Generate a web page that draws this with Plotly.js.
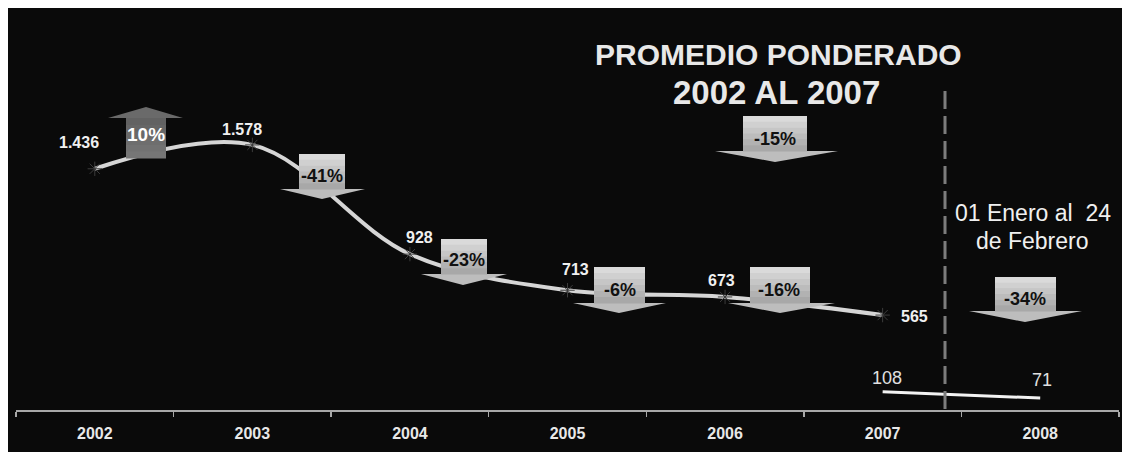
<!DOCTYPE html>
<html>
<head>
<meta charset="utf-8">
<script src="https://cdn.plot.ly/plotly-3.0.1.min.js"></script>
<style>
  html, body { margin: 0; padding: 0; background: #ffffff; }
  #chart { position: absolute; left: 8px; top: 8px; width: 1114px; height: 444px; }
</style>
</head>
<body>
<div id="chart"></div>
<script>
// ---- data ----
const years = ['2002', '2003', '2004', '2005', '2006', '2007', '2008'];
const annualYears = ['2002', '2003', '2004', '2005', '2006', '2007'];
const annualValues = [1436, 1578, 928, 713, 673, 565];
const annualLabels = ['1.436', '1.578', '928', '713', '673', '565'];
const periodYears = ['2007', '2008'];
const periodValues = [108, 71];
const periodLabels = ['108', '71'];
const changeLabels = ['10%', '-41%', '-23%', '-6%', '-16%', '-15%', '-34%'];
const titleLines = ['PROMEDIO PONDERADO', '2002 AL 2007'];
const periodNote = ['01 Enero al&nbsp;&nbsp;24', 'de Febrero'];

// ---- layout helpers (page pixel -> paper) ----
const PX0 = 16, PXW = 1103, PY0 = 410, PYH = 402;
const px = x => (x - PX0) / PXW;
const py = y => (PY0 - y) / PYH;

// label offsets (pixels) for the data labels
const annualShift = [[-16, 26], [-10, 15], [10, 17], [8, 21], [-4, 16], [32, -1]];
const periodShift = [[4, 14], [2, 18]];

// arrow geometry in page pixels: [bodyL, bodyR, bodyTop, bodyBot, headL, headR, tipX, tipY, up]
const arrows = [
  [126, 166, 118, 158, 108, 183, 146, 107, true],
  [299, 345, 154, 189, 280, 365, 322, 199, false],
  [441, 487, 239, 274, 421, 507, 463, 285, false],
  [594, 645, 267, 303, 573, 666, 619, 313, false],
  [750, 810, 267, 303, 728, 835, 780, 313, false],
  [743, 807, 116, 151, 715, 838, 775, 162, false],
  [995, 1056, 277, 311, 969, 1082, 1025, 322, false]
];
const labelPos = [[146, 135], [322, 176], [464, 260], [620, 289.5], [779, 289.5], [775, 138.5], [1025, 298.5]];

const FONT = 'Arial, "Liberation Sans", sans-serif';
const shapes = [];

function bandColor(t, up) {
  if (up) {
    const v = Math.round(118 - 20 * t);
    return `rgb(${v},${v},${v})`;
  }
  const v = Math.round(218 - 50 * t);
  return `rgb(${v},${v},${v})`;
}

arrows.forEach(a => {
  const [bl, br, bt, bb, hl, hr, tx, ty, up] = a;
  let path;
  if (up) {
    path = `M ${px(bl)},${py(bb)} L ${px(br)},${py(bb)} L ${px(br)},${py(bt)} L ${px(hr)},${py(bt)} L ${px(tx)},${py(ty)} L ${px(hl)},${py(bt)} L ${px(bl)},${py(bt)} Z`;
  } else {
    path = `M ${px(bl)},${py(bt)} L ${px(br)},${py(bt)} L ${px(br)},${py(bb)} L ${px(hr)},${py(bb)} L ${px(tx)},${py(ty)} L ${px(hl)},${py(bb)} L ${px(bl)},${py(bb)} Z`;
  }
  shapes.push({
    type: 'path', xref: 'paper', yref: 'paper', path: path,
    fillcolor: up ? '#6a6a6a' : '#bdbdbd', line: { width: 0 }, layer: 'above'
  });
  const n = 6;
  const h = (bb - bt) / n;
  for (let i = 0; i < n; i++) {
    const t = i / (n - 1);
    shapes.push({
      type: 'rect', xref: 'paper', yref: 'paper',
      x0: px(bl), x1: px(br), y0: py(bt + i * h), y1: py(bt + (i + 1) * h + 0.5),
      fillcolor: bandColor(up ? 1 - t : t, up), line: { width: 0 }, layer: 'above'
    });
  }
});

// vertical dashed separator
shapes.push({
  type: 'line', xref: 'paper', yref: 'paper',
  x0: px(945), x1: px(945), y0: py(409), y1: py(87),
  line: { color: '#7c7c7c', width: 3, dash: '18px,7px' }, layer: 'above'
});

const annotations = [];
annualValues.forEach((v, i) => {
  annotations.push({
    x: years.indexOf(annualYears[i]), y: v, xref: 'x', yref: 'y', text: annualLabels[i], showarrow: false,
    xanchor: 'center', yanchor: 'middle',
    xshift: annualShift[i][0], yshift: annualShift[i][1],
    font: { family: FONT, size: 16, color: '#f0f0f0', weight: 'bold' }
  });
});
periodValues.forEach((v, i) => {
  annotations.push({
    x: years.indexOf(periodYears[i]), y: v, xref: 'x', yref: 'y', text: periodLabels[i], showarrow: false,
    xanchor: 'center', yanchor: 'middle',
    xshift: periodShift[i][0], yshift: periodShift[i][1],
    font: { family: FONT, size: 18, color: '#e0e0e0' }
  });
});
changeLabels.forEach((t, i) => {
  const up = arrows[i][8];
  annotations.push({
    x: px(labelPos[i][0]), y: py(labelPos[i][1]), xref: 'paper', yref: 'paper',
    text: t, showarrow: false, xanchor: 'center', yanchor: 'middle',
    font: { family: FONT, size: up ? 19 : 18, color: up ? '#ffffff' : '#111111', weight: 'bold' }
  });
});
annotations.push({
  x: px(778.5), y: py(55), xref: 'paper', yref: 'paper', text: titleLines[0], showarrow: false,
  xanchor: 'center', yanchor: 'middle',
  font: { family: FONT, size: 30, color: '#e8e8e8', weight: 'bold' }
});
annotations.push({
  x: px(776.5), y: py(93), xref: 'paper', yref: 'paper', text: titleLines[1], showarrow: false,
  xanchor: 'center', yanchor: 'middle',
  font: { family: FONT, size: 33, color: '#e8e8e8', weight: 'bold' }
});
annotations.push({
  x: px(1033), y: py(213), xref: 'paper', yref: 'paper', text: periodNote[0], showarrow: false,
  xanchor: 'center', yanchor: 'middle',
  font: { family: FONT, size: 23, color: '#f0f0f0' }
});
annotations.push({
  x: px(1032.5), y: py(240.5), xref: 'paper', yref: 'paper', text: periodNote[1], showarrow: false,
  xanchor: 'center', yanchor: 'middle',
  font: { family: FONT, size: 23, color: '#f0f0f0' }
});

const traces = [
  {
    x: annualYears, y: annualValues, type: 'scatter', mode: 'lines+markers',
    line: { color: '#d6d6d6', width: 4, shape: 'spline', smoothing: 1 },
    marker: { symbol: 'asterisk-open', size: 12, color: '#3c3c3c', line: { color: '#3c3c3c', width: 1 } },
    hoverinfo: 'skip'
  },
  {
    x: periodYears, y: periodValues, type: 'scatter', mode: 'lines',
    line: { color: '#f2f2f2', width: 3 },
    hoverinfo: 'skip'
  }
];

const layout = {
  width: 1114, height: 444,
  margin: { l: 8, r: 3, t: 0, b: 42 },
  paper_bgcolor: '#0a0a0a', plot_bgcolor: '#0a0a0a',
  showlegend: false,
  xaxis: {
    type: 'category', categoryorder: 'array', categoryarray: years,
    range: [-0.5, 6.5], tickmode: 'array', tickvals: years, ticktext: years,
    tickson: 'boundaries', ticks: 'outside', ticklen: 5, tickwidth: 1.5, tickcolor: '#a8a8a8',
    ticklabelstandoff: 8,
    showline: true, linecolor: '#a8a8a8', linewidth: 2,
    showgrid: false, zeroline: false, fixedrange: true,
    tickfont: { family: FONT, size: 16, color: '#e8e8e8', weight: 'bold' }
  },
  yaxis: {
    range: [0, 2393], visible: false, showgrid: false, zeroline: false, fixedrange: true
  },
  shapes: shapes,
  annotations: annotations
};

Plotly.newPlot('chart', traces, layout, { staticPlot: true, displayModeBar: false });
</script>
</body>
</html>
